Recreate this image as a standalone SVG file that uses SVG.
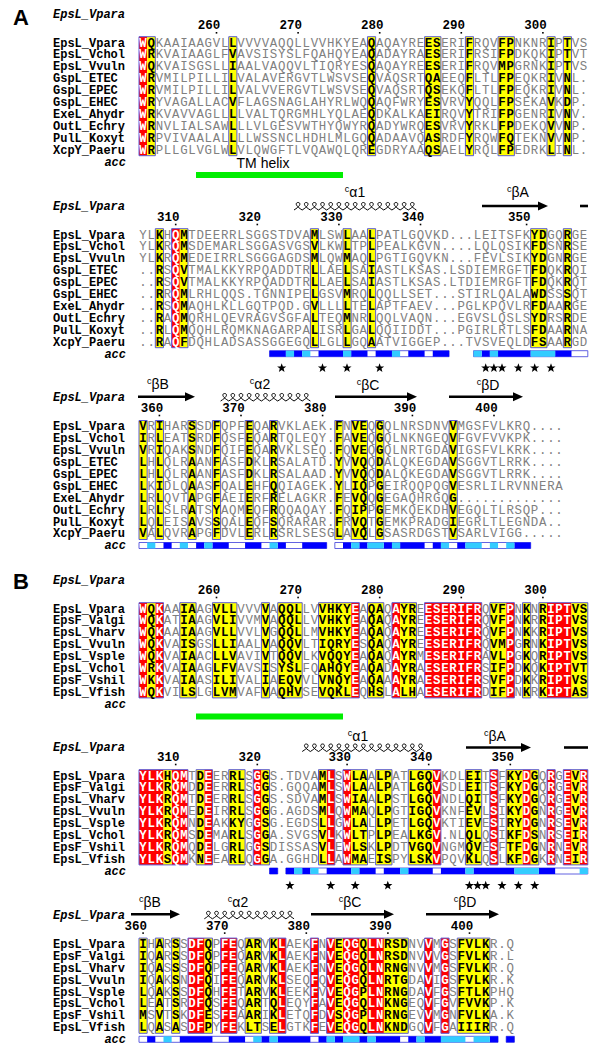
<svg xmlns="http://www.w3.org/2000/svg" width="600" height="1050" viewBox="0 0 600 1050">
<style>
.s{font-family:"Liberation Mono","Courier New",monospace;font-size:12.4px;letter-spacing:0.72px;fill:#808080}
.k{font-weight:bold;fill:#000}
.w{font-weight:bold;fill:#fff}
.n{font-family:"Liberation Mono","Courier New",monospace;font-size:12px;font-weight:bold;fill:#000}
.t{font-family:"Liberation Mono","Courier New",monospace;font-size:12px;font-weight:bold;font-style:italic;fill:#000}
.acc{font-family:"Liberation Mono","Courier New",monospace;font-size:12px;font-weight:bold;font-style:italic;fill:#000;text-anchor:end}
.num{font-family:"Liberation Mono","Courier New",monospace;font-size:12.5px;font-weight:bold;fill:#000;text-anchor:end}
.ss{font-family:"Liberation Sans",Arial,sans-serif;font-size:14px;fill:#000;text-anchor:middle}
.pl{font-family:"Liberation Sans",Arial,sans-serif;font-size:22px;font-weight:bold;fill:#000}
.R{fill:#ff0000}.Y{fill:#ffff00}
.fr{fill:none;stroke:#5a5ad6;stroke-width:1;vector-effect:non-scaling-stroke}
.ab{fill:#0000ff}.ac{fill:#33ccff}
.aw{fill:#fff;stroke:#3b3bd9;stroke-width:0.8;vector-effect:non-scaling-stroke}
.hx{fill:none;stroke:#000;stroke-width:1}
.ar{stroke:#000;stroke-width:2.6}
.tm{fill:#00ee00}
</style>
<defs>
<path id="st" d="M0,-4.8L1.18,-1.62L4.57,-1.48L1.9,0.62L2.82,3.88L0,2L-2.82,3.88L-1.9,0.62L-4.57,-1.48L-1.18,-1.62Z" fill="#000"/>
<polygon id="ah" points="-10,-4.5 0,0 -10,4.5" fill="#000"/>
</defs>

<g id="panelA">
<text class="pl" x="13" y="25">A</text>

<g id="A1">
<text class="t" x="53" y="18">EpsL_Vpara</text>
<g class="num"><text x="220.3" y="29.3">260</text><text x="301.9" y="29.3">270</text><text x="383.5" y="29.3">280</text><text x="465.1" y="29.3">290</text><text x="546.7" y="29.3">300</text></g>
<g fill="#000"><rect x="215.7" y="32" width="1.6" height="1.6"/><rect x="297.3" y="32" width="1.6" height="1.6"/><rect x="378.9" y="32" width="1.6" height="1.6"/><rect x="460.5" y="32" width="1.6" height="1.6"/><rect x="542.1" y="32" width="1.6" height="1.6"/></g>
<g transform="translate(139,36.7) scale(8.16,1)">
<rect class="R" x="0" width="1" height="119"/>
<rect class="Y" x="1" width="1" height="119"/><rect class="Y" x="11" width="1" height="119"/><rect class="Y" x="28" width="1" height="119"/><rect class="Y" x="35" width="2" height="119"/><rect class="Y" x="40" width="1" height="119"/><rect class="Y" x="44" width="2" height="119"/><rect class="Y" x="50" width="1" height="119"/><rect class="Y" x="52" width="1" height="119"/>
<rect class="fr" x="0" width="2" height="119"/><rect class="fr" x="11" width="1" height="119"/><rect class="fr" x="28" width="1" height="119"/><rect class="fr" x="35" width="2" height="119"/><rect class="fr" x="40" width="1" height="119"/><rect class="fr" x="44" width="2" height="119"/><rect class="fr" x="50" width="1" height="119"/><rect class="fr" x="52" width="1" height="119"/>
</g>
<text class="n"><tspan x="53" y="46.5">EpsL_Vpara</tspan><tspan x="53" y="58.4">EpsL_Vchol</tspan><tspan x="53" y="70.3">EpsL_Vvuln</tspan><tspan x="53" y="82.2">GspL_ETEC</tspan><tspan x="53" y="94.1">GspL_EPEC</tspan><tspan x="53" y="106">GspL_EHEC</tspan><tspan x="53" y="117.9">ExeL_Ahydr</tspan><tspan x="53" y="129.8">OutL_Echry</tspan><tspan x="53" y="141.7">PulL_Koxyt</tspan><tspan x="53" y="153.6">XcpY_Paeru</tspan></text>
<text class="acc" x="126" y="165.5">acc</text>
<g class="s" transform="translate(139.36,0)">
<text y="46.5"><tspan class="w">W</tspan><tspan class="k">Q</tspan>KAAIAAGVL<tspan class="k">L</tspan>VVVVAQQLLVVHKYEA<tspan class="k">Q</tspan>AQAYRE<tspan class="k">ES</tspan>ERI<tspan class="k">F</tspan>RQV<tspan class="k">FP</tspan>NKNR<tspan class="k">I</tspan>P<tspan class="k">T</tspan>VS</text>
<text y="58.4"><tspan class="w">W</tspan><tspan class="k">R</tspan>KVAIAAGLF<tspan class="k">V</tspan>AVSISYSLFQAHQYEA<tspan class="k">Q</tspan>ADAYRA<tspan class="k">ES</tspan>ERI<tspan class="k">F</tspan>RSI<tspan class="k">FP</tspan>DKQK<tspan class="k">I</tspan>P<tspan class="k">T</tspan>VT</text>
<text y="70.3"><tspan class="w">W</tspan><tspan class="k">Q</tspan>KVAISGSLL<tspan class="k">I</tspan>AALVAQQVLTIQRYES<tspan class="k">Q</tspan>AQAYRE<tspan class="k">ES</tspan>ERI<tspan class="k">F</tspan>RQV<tspan class="k">MP</tspan>GRNK<tspan class="k">I</tspan>P<tspan class="k">T</tspan>VS</text>
<text y="82.2"><tspan class="w">W</tspan><tspan class="k">R</tspan>VMILPILLI<tspan class="k">L</tspan>VALAVERGVTLWSVSE<tspan class="k">Q</tspan>VAQSRT<tspan class="k">QA</tspan>EEQ<tspan class="k">F</tspan>LTL<tspan class="k">FP</tspan>EQKR<tspan class="k">I</tspan>V<tspan class="k">N</tspan>L.</text>
<text y="94.1"><tspan class="w">W</tspan><tspan class="k">R</tspan>VMILPILLI<tspan class="k">L</tspan>VALVVERGVTLWSVSE<tspan class="k">Q</tspan>VAQSRT<tspan class="k">QS</tspan>EKQ<tspan class="k">F</tspan>LTL<tspan class="k">FP</tspan>EQKR<tspan class="k">I</tspan>V<tspan class="k">N</tspan>L.</text>
<text y="106"><tspan class="w">W</tspan><tspan class="k">R</tspan>YVAGALLAC<tspan class="k">V</tspan>FLAGSNAGLAHYRLWQ<tspan class="k">Q</tspan>AQFWRY<tspan class="k">ES</tspan>VRV<tspan class="k">Y</tspan>QQL<tspan class="k">FP</tspan>SEKA<tspan class="k">V</tspan>K<tspan class="k">D</tspan>P.</text>
<text y="117.9"><tspan class="w">W</tspan><tspan class="k">R</tspan>KVAVVAGLL<tspan class="k">L</tspan>LVALTQRGMHLYQLAE<tspan class="k">Q</tspan>DKALKA<tspan class="k">EI</tspan>RQV<tspan class="k">Y</tspan>TRI<tspan class="k">FP</tspan>GENR<tspan class="k">I</tspan>V<tspan class="k">N</tspan>V.</text>
<text y="129.8"><tspan class="w">W</tspan><tspan class="k">R</tspan>NVLIALSAW<tspan class="k">L</tspan>LLVLGESVWTHYQWYR<tspan class="k">Q</tspan>ADYWRQ<tspan class="k">ES</tspan>VRV<tspan class="k">Y</tspan>RKL<tspan class="k">FP</tspan>DEKQ<tspan class="k">V</tspan>V<tspan class="k">N</tspan>P.</text>
<text y="141.7"><tspan class="w">W</tspan><tspan class="k">R</tspan>PVIVAALAL<tspan class="k">L</tspan>LLWSSNCLHDHLMLGQ<tspan class="k">Q</tspan>ADAAVQ<tspan class="k">AS</tspan>RDF<tspan class="k">Y</tspan>RQW<tspan class="k">FQ</tspan>TEKN<tspan class="k">V</tspan>V<tspan class="k">N</tspan>P.</text>
<text y="153.6"><tspan class="w">W</tspan><tspan class="k">R</tspan>PLLGLVGLW<tspan class="k">L</tspan>VLQWGFTLVQAWQLQR<tspan class="k">E</tspan>GDRYAA<tspan class="k">QS</tspan>AEL<tspan class="k">Y</tspan>RQL<tspan class="k">FP</tspan>EDRK<tspan class="k">L</tspan>I<tspan class="k">N</tspan>L.</text>
</g>
<text x="263" y="168" class="ss">TM helix</text>
<rect class="tm" x="196" y="172" width="147" height="6"/>
</g>

<g id="A2">
<text class="ss" x="355" y="197"><tspan font-size="9" dy="-5">c</tspan><tspan dy="5">α1</tspan></text>
<text class="ss" x="518" y="197"><tspan font-size="9" dy="-5">c</tspan><tspan dy="5">βA</tspan></text>
<path class="hx" d="M294,210c16.3,-10 -8.2,-10 8.16,0c16.3,-10 -8.2,-10 8.16,0c16.3,-10 -8.2,-10 8.16,0c16.3,-10 -8.2,-10 8.16,0c16.3,-10 -8.2,-10 8.16,0c16.3,-10 -8.2,-10 8.16,0c16.3,-10 -8.2,-10 8.16,0c16.3,-10 -8.2,-10 8.16,0c16.3,-10 -8.2,-10 8.16,0c16.3,-10 -8.2,-10 8.16,0c16.3,-10 -8.2,-10 8.16,0c16.3,-10 -8.2,-10 8.16,0c16.3,-10 -8.2,-10 8.16,0c16.3,-10 -8.2,-10 8.16,0c16.3,-10 -8.2,-10 8.16,0"/>
<line class="ar" x1="482" y1="206" x2="540" y2="206"/><use href="#ah" x="548" y="206"/>
<line class="ar" x1="580" y1="206" x2="588" y2="206"/>
<text class="t" x="53" y="210">EpsL_Vpara</text>
<g class="num"><text x="179.5" y="221">310</text><text x="261.1" y="221">320</text><text x="342.7" y="221">330</text><text x="424.3" y="221">340</text><text x="530.4" y="221">350</text></g>
<g fill="#000"><rect x="174.9" y="223.7" width="1.6" height="1.6"/><rect x="256.5" y="223.7" width="1.6" height="1.6"/><rect x="338.1" y="223.7" width="1.6" height="1.6"/><rect x="419.7" y="223.7" width="1.6" height="1.6"/><rect x="525.8" y="223.7" width="1.6" height="1.6"/></g>
<g transform="translate(139,228.7) scale(8.16,1)">
<rect class="Y" x="2" width="1" height="119"/><rect class="R" x="4" width="1" height="119"/><rect class="Y" x="5" width="1" height="119"/><rect class="Y" x="21" width="1" height="119"/><rect class="Y" x="25" width="1" height="119"/><rect class="Y" x="28" width="1" height="119"/><rect class="Y" x="48" width="2" height="119"/><rect class="Y" x="52" width="1" height="119"/>
<rect class="fr" x="2" width="1" height="119"/><rect class="fr" x="4" width="2" height="119"/><rect class="fr" x="21" width="1" height="119"/><rect class="fr" x="25" width="1" height="119"/><rect class="fr" x="28" width="1" height="119"/><rect class="fr" x="48" width="2" height="119"/><rect class="fr" x="52" width="1" height="119"/>
</g>
<text class="n"><tspan x="53" y="238.5">EpsL_Vpara</tspan><tspan x="53" y="250.4">EpsL_Vchol</tspan><tspan x="53" y="262.3">EpsL_Vvuln</tspan><tspan x="53" y="274.2">GspL_ETEC</tspan><tspan x="53" y="286.1">GspL_EPEC</tspan><tspan x="53" y="298">GspL_EHEC</tspan><tspan x="53" y="309.9">ExeL_Ahydr</tspan><tspan x="53" y="321.8">OutL_Echry</tspan><tspan x="53" y="333.7">PulL_Koxyt</tspan><tspan x="53" y="345.6">XcpY_Paeru</tspan></text>
<text class="acc" x="126" y="357.5">acc</text>
<g class="s" transform="translate(139.36,0)">
<text y="238.5">YL<tspan class="k">K</tspan>H<tspan class="w">Q</tspan><tspan class="k">M</tspan>TDEERRLSGGSTDVA<tspan class="k">M</tspan>LSW<tspan class="k">L</tspan>AA<tspan class="k">L</tspan>PATLGQVKD...LEITSFK<tspan class="k">YD</tspan>GQ<tspan class="k">R</tspan>GE</text>
<text y="250.4">YL<tspan class="k">K</tspan>R<tspan class="w">Q</tspan><tspan class="k">M</tspan>SDEMARLSGGASVGS<tspan class="k">V</tspan>LKW<tspan class="k">L</tspan>TP<tspan class="k">L</tspan>PEALKGVN....LQLQSIK<tspan class="k">FD</tspan>SN<tspan class="k">R</tspan>SE</text>
<text y="262.3">YL<tspan class="k">K</tspan>R<tspan class="w">Q</tspan><tspan class="k">M</tspan>EDEIRRLSGGGAGDS<tspan class="k">M</tspan>LQW<tspan class="k">M</tspan>AQ<tspan class="k">L</tspan>PGTIGQVKN...FEVLSIK<tspan class="k">YD</tspan>GN<tspan class="k">R</tspan>GE</text>
<text y="274.2">..<tspan class="k">R</tspan>S<tspan class="w">Q</tspan><tspan class="k">V</tspan>TMALKKYRPQADDTR<tspan class="k">L</tspan>LAE<tspan class="k">L</tspan>SA<tspan class="k">I</tspan>ASTLKSAS.LSDIEMRGFT<tspan class="k">FD</tspan>QK<tspan class="k">R</tspan>QI</text>
<text y="286.1">..<tspan class="k">R</tspan>S<tspan class="w">Q</tspan><tspan class="k">V</tspan>TMALKKYRPQADDTR<tspan class="k">L</tspan>LAE<tspan class="k">L</tspan>SA<tspan class="k">I</tspan>ASTLKSAS.LTDIEMRGFT<tspan class="k">FD</tspan>QK<tspan class="k">R</tspan>QT</text>
<text y="298">..<tspan class="k">R</tspan>R<tspan class="w">Q</tspan><tspan class="k">M</tspan>LRHLQQS.TGNNIPE<tspan class="k">L</tspan>GSV<tspan class="k">M</tspan>RQ<tspan class="k">L</tspan>QQLLSET...STIRLQALA<tspan class="k">WD</tspan>SS<tspan class="k">S</tspan>QT</text>
<text y="309.9">..<tspan class="k">R</tspan>S<tspan class="w">Q</tspan><tspan class="k">M</tspan>AQHLKLLGQTPQD.G<tspan class="k">V</tspan>LLL<tspan class="k">L</tspan>TE<tspan class="k">L</tspan>APTFAEV...PGLKPQVLR<tspan class="k">FD</tspan>AA<tspan class="k">R</tspan>GE</text>
<text y="321.8">..<tspan class="k">R</tspan>A<tspan class="w">Q</tspan><tspan class="k">M</tspan>QRHLQEVRAGVSGFA<tspan class="k">L</tspan>TEQ<tspan class="k">M</tspan>NR<tspan class="k">L</tspan>QQLVAQN...EGVSLQSLS<tspan class="k">YD</tspan>RS<tspan class="k">R</tspan>DE</text>
<text y="333.7">..<tspan class="k">R</tspan>L<tspan class="w">Q</tspan><tspan class="k">M</tspan>QQHLRQMKNAGARPA<tspan class="k">L</tspan>ISR<tspan class="k">L</tspan>GA<tspan class="k">L</tspan>QQIIDDT...PGIRLRTLS<tspan class="k">FD</tspan>AA<tspan class="k">R</tspan>NA</text>
<text y="345.6">..<tspan class="k">R</tspan>A<tspan class="w">Q</tspan><tspan class="k">F</tspan>DQHLADSASSGGEGQ<tspan class="k">L</tspan>LGL<tspan class="k">L</tspan>GQ<tspan class="k">A</tspan>ATVIGGEP...TVSVEQLD<tspan class="k">FS</tspan>AA<tspan class="k">R</tspan>GD</text>
</g>
<g transform="translate(139,350.7) scale(8.16,1)">
<rect class="aw" x="16" width="22" height="6"/><rect class="aw" x="41" width="14" height="6"/>
<rect class="ab" x="16" width="2" height="6"/><rect class="ab" x="19" width="1" height="6"/><rect class="ab" x="22" width="3" height="6"/><rect class="ab" x="26" width="2" height="6"/><rect class="ab" x="29" width="2" height="6"/><rect class="ab" x="33" width="2" height="6"/><rect class="ab" x="36" width="2" height="6"/><rect class="ab" x="42" width="1" height="6"/><rect class="ab" x="44" width="4" height="6"/><rect class="ab" x="51" width="2" height="6"/>
<rect class="ac" x="18" width="1" height="6"/><rect class="ac" x="20" width="1" height="6"/><rect class="ac" x="25" width="1" height="6"/><rect class="ac" x="31" width="1" height="6"/><rect class="ac" x="41" width="1" height="6"/><rect class="ac" x="43" width="1" height="6"/><rect class="ac" x="48" width="3" height="6"/>
</g>
<g><use href="#st" x="281.7" y="368"/><use href="#st" x="322.5" y="368"/><use href="#st" x="347" y="368"/><use href="#st" x="379.6" y="368"/><use href="#st" x="485.7" y="368"/><use href="#st" x="493.9" y="368"/><use href="#st" x="502" y="368"/><use href="#st" x="518.4" y="368"/><use href="#st" x="534.7" y="368"/><use href="#st" x="551" y="368"/></g>
</g>

<g id="A3">
<text class="ss" x="158" y="389"><tspan font-size="9" dy="-5">c</tspan><tspan dy="5">βB</tspan></text>
<text class="ss" x="260" y="389"><tspan font-size="9" dy="-5">c</tspan><tspan dy="5">α2</tspan></text>
<text class="ss" x="368" y="390"><tspan font-size="9" dy="-5">c</tspan><tspan dy="5">βC</tspan></text>
<text class="ss" x="488" y="390"><tspan font-size="9" dy="-5">c</tspan><tspan dy="5">βD</tspan></text>
<line class="ar" x1="138" y1="396.7" x2="187" y2="396.7"/><use href="#ah" x="195" y="396.7"/>
<path class="hx" d="M220.6,401c16.3,-10 -8.2,-10 8.16,0c16.3,-10 -8.2,-10 8.16,0c16.3,-10 -8.2,-10 8.16,0c16.3,-10 -8.2,-10 8.16,0c16.3,-10 -8.2,-10 8.16,0c16.3,-10 -8.2,-10 8.16,0c16.3,-10 -8.2,-10 8.16,0c16.3,-10 -8.2,-10 8.16,0c16.3,-10 -8.2,-10 8.16,0c16.3,-10 -8.2,-10 8.16,0c16.3,-10 -8.2,-10 8.16,0"/>
<line class="ar" x1="335" y1="396.7" x2="409" y2="396.7"/><use href="#ah" x="417" y="396.7"/>
<line class="ar" x1="449" y1="396.7" x2="515" y2="396.7"/><use href="#ah" x="523" y="396.7"/>
<text class="t" x="53" y="401">EpsL_Vpara</text>
<g class="num"><text x="163.2" y="412">360</text><text x="244.8" y="412">370</text><text x="326.4" y="412">380</text><text x="416.2" y="412">390</text><text x="497.8" y="412">400</text></g>
<g fill="#000"><rect x="158.6" y="414.7" width="1.6" height="1.6"/><rect x="240.2" y="414.7" width="1.6" height="1.6"/><rect x="321.8" y="414.7" width="1.6" height="1.6"/><rect x="411.6" y="414.7" width="1.6" height="1.6"/><rect x="493.2" y="414.7" width="1.6" height="1.6"/></g>
<g transform="translate(139,420.5) scale(8.16,1)">
<rect class="Y" x="0" width="1" height="119"/><rect class="Y" x="2" width="1" height="119"/><rect class="Y" x="6" width="1" height="119"/><rect class="Y" x="9" width="1" height="119"/><rect class="Y" x="13" width="1" height="119"/><rect class="Y" x="16" width="1" height="119"/><rect class="Y" x="24" width="1" height="119"/><rect class="Y" x="26" width="2" height="119"/><rect class="Y" x="29" width="1" height="119"/><rect class="Y" x="38" width="1" height="119"/>
<rect class="fr" x="0" width="1" height="119"/><rect class="fr" x="2" width="1" height="119"/><rect class="fr" x="6" width="1" height="119"/><rect class="fr" x="9" width="1" height="119"/><rect class="fr" x="13" width="1" height="119"/><rect class="fr" x="16" width="1" height="119"/><rect class="fr" x="24" width="1" height="119"/><rect class="fr" x="26" width="2" height="119"/><rect class="fr" x="29" width="1" height="119"/><rect class="fr" x="38" width="1" height="119"/>
</g>
<text class="n"><tspan x="53" y="430.3">EpsL_Vpara</tspan><tspan x="53" y="442.2">EpsL_Vchol</tspan><tspan x="53" y="454.1">EpsL_Vvuln</tspan><tspan x="53" y="466">GspL_ETEC</tspan><tspan x="53" y="477.9">GspL_EPEC</tspan><tspan x="53" y="489.8">GspL_EHEC</tspan><tspan x="53" y="501.7">ExeL_Ahydr</tspan><tspan x="53" y="513.6">OutL_Echry</tspan><tspan x="53" y="525.5">PulL_Koxyt</tspan><tspan x="53" y="537.4">XcpY_Paeru</tspan></text>
<text class="acc" x="126" y="549.3">acc</text>
<g class="s" transform="translate(139.36,0)">
<text y="430.3"><tspan class="k">V</tspan>R<tspan class="k">I</tspan>HAR<tspan class="k">S</tspan>SD<tspan class="k">F</tspan>QPF<tspan class="k">E</tspan>QA<tspan class="k">R</tspan>VKLAEK.<tspan class="k">F</tspan>N<tspan class="k">VE</tspan>Q<tspan class="k">G</tspan>QLNRSDNV<tspan class="k">V</tspan>MGSFVLKRQ....</text>
<text y="442.2"><tspan class="k">I</tspan>R<tspan class="k">L</tspan>EAT<tspan class="k">S</tspan>RD<tspan class="k">F</tspan>QSF<tspan class="k">E</tspan>QA<tspan class="k">R</tspan>TQLEQY.<tspan class="k">F</tspan>A<tspan class="k">VE</tspan>Q<tspan class="k">G</tspan>QLNKNGEQ<tspan class="k">V</tspan>FGVFVVKPK....</text>
<text y="454.1"><tspan class="k">V</tspan>R<tspan class="k">I</tspan>QAK<tspan class="k">S</tspan>ND<tspan class="k">F</tspan>QIF<tspan class="k">E</tspan>QA<tspan class="k">R</tspan>VKLSEQ.<tspan class="k">F</tspan>Q<tspan class="k">VE</tspan>Q<tspan class="k">G</tspan>QLNRTGDA<tspan class="k">V</tspan>IGSFVLKRK....</text>
<text y="466"><tspan class="k">L</tspan>H<tspan class="k">L</tspan>QLR<tspan class="k">A</tspan>AN<tspan class="k">F</tspan>ASF<tspan class="k">D</tspan>KL<tspan class="k">R</tspan>SALATD.<tspan class="k">Y</tspan>V<tspan class="k">VQ</tspan>Q<tspan class="k">D</tspan>ALQKEGDA<tspan class="k">V</tspan>SGGVTLRRK....</text>
<text y="477.9"><tspan class="k">L</tspan>H<tspan class="k">L</tspan>QLR<tspan class="k">A</tspan>AN<tspan class="k">F</tspan>ASF<tspan class="k">D</tspan>KL<tspan class="k">R</tspan>SALAAD.<tspan class="k">Y</tspan>V<tspan class="k">VQ</tspan>Q<tspan class="k">D</tspan>ALQKEGDA<tspan class="k">V</tspan>SGGVTLRRK....</text>
<text y="489.8"><tspan class="k">L</tspan>K<tspan class="k">I</tspan>DLQ<tspan class="k">A</tspan>AS<tspan class="k">F</tspan>QAL<tspan class="k">E</tspan>HF<tspan class="k">Q</tspan>QIAGEK.<tspan class="k">Y</tspan>L<tspan class="k">IQ</tspan>P<tspan class="k">G</tspan>EIRQQPQG<tspan class="k">V</tspan>ESRLILRVNNERA</text>
<text y="501.7"><tspan class="k">L</tspan>R<tspan class="k">L</tspan>QVT<tspan class="k">A</tspan>PG<tspan class="k">F</tspan>AEI<tspan class="k">E</tspan>RF<tspan class="k">R</tspan>ELAGKR.<tspan class="k">F</tspan>E<tspan class="k">VQ</tspan>Q<tspan class="k">G</tspan>EGAQHRGQ<tspan class="k">G</tspan>.............</text>
<text y="513.6"><tspan class="k">L</tspan>R<tspan class="k">L</tspan>SLR<tspan class="k">A</tspan>TS<tspan class="k">Y</tspan>AQM<tspan class="k">E</tspan>QF<tspan class="k">R</tspan>QQAQAY.<tspan class="k">F</tspan>Q<tspan class="k">IP</tspan>P<tspan class="k">G</tspan>EMKQEKDH<tspan class="k">V</tspan>EGQLTLRSQP...</text>
<text y="525.5"><tspan class="k">L</tspan>Q<tspan class="k">L</tspan>EIS<tspan class="k">A</tspan>VS<tspan class="k">S</tspan>QAL<tspan class="k">E</tspan>QF<tspan class="k">S</tspan>QRARAR.<tspan class="k">F</tspan>R<tspan class="k">VQ</tspan>T<tspan class="k">G</tspan>EMKPRADG<tspan class="k">I</tspan>EGRLTLEGNDA..</text>
<text y="537.4"><tspan class="k">V</tspan>A<tspan class="k">L</tspan>QVR<tspan class="k">A</tspan>PG<tspan class="k">F</tspan>DVL<tspan class="k">E</tspan>RL<tspan class="k">R</tspan>SRLSESG<tspan class="k">L</tspan>A<tspan class="k">VQ</tspan>L<tspan class="k">G</tspan>SASRDGST<tspan class="k">V</tspan>SARLVIGG.....</text>
</g>
<g transform="translate(139,542.5) scale(8.16,1)">
<rect class="aw" x="0" width="23" height="6"/><rect class="aw" x="24" width="24" height="6"/>
<rect class="ab" x="3" width="1" height="6"/><rect class="ab" x="7" width="1" height="6"/><rect class="ab" x="9" width="2" height="6"/><rect class="ab" x="13" width="2" height="6"/><rect class="ab" x="17" width="1" height="6"/><rect class="ab" x="20" width="3" height="6"/><rect class="ab" x="25" width="1" height="6"/><rect class="ab" x="27" width="1" height="6"/><rect class="ab" x="30" width="1" height="6"/><rect class="ab" x="32" width="3" height="6"/><rect class="ab" x="36" width="1" height="6"/><rect class="ab" x="39" width="1" height="6"/><rect class="ab" x="46" width="2" height="6"/>
<rect class="ac" x="1" width="1" height="6"/><rect class="ac" x="5" width="1" height="6"/><rect class="ac" x="8" width="1" height="6"/><rect class="ac" x="16" width="1" height="6"/><rect class="ac" x="26" width="1" height="6"/><rect class="ac" x="28" width="2" height="6"/><rect class="ac" x="31" width="1" height="6"/><rect class="ac" x="37" width="1" height="6"/><rect class="ac" x="40" width="2" height="6"/><rect class="ac" x="43" width="1" height="6"/><rect class="ac" x="45" width="1" height="6"/>
</g>
</g>
</g>

<g id="panelB">
<text class="pl" x="13" y="589">B</text>

<g id="B1">
<text class="t" x="53" y="583.5">EpsL_Vpara</text>
<g class="num"><text x="220.3" y="594">260</text><text x="301.9" y="594">270</text><text x="383.5" y="594">280</text><text x="465.1" y="594">290</text><text x="546.7" y="594">300</text></g>
<g fill="#000"><rect x="215.7" y="596.7" width="1.6" height="1.6"/><rect x="297.3" y="596.7" width="1.6" height="1.6"/><rect x="378.9" y="596.7" width="1.6" height="1.6"/><rect x="460.5" y="596.7" width="1.6" height="1.6"/><rect x="542.1" y="596.7" width="1.6" height="1.6"/></g>
<g transform="translate(139,602.7) scale(8.16,1)">
<rect class="R" x="0" width="1" height="95.2"/><rect class="R" x="2" width="1" height="95.2"/><rect class="R" x="26" width="1" height="95.2"/><rect class="R" x="31" width="1" height="95.2"/><rect class="R" x="35" width="7" height="95.2"/><rect class="R" x="45" width="1" height="95.2"/><rect class="R" x="50" width="3" height="95.2"/>
<rect class="Y" x="1" width="1" height="95.2"/><rect class="Y" x="5" width="2" height="95.2"/><rect class="Y" x="9" width="3" height="95.2"/><rect class="Y" x="15" width="1" height="95.2"/><rect class="Y" x="17" width="3" height="95.2"/><rect class="Y" x="22" width="4" height="95.2"/><rect class="Y" x="28" width="2" height="95.2"/><rect class="Y" x="32" width="2" height="95.2"/><rect class="Y" x="43" width="2" height="95.2"/><rect class="Y" x="47" width="1" height="95.2"/><rect class="Y" x="49" width="1" height="95.2"/><rect class="Y" x="53" width="2" height="95.2"/>
<rect class="fr" x="0" width="3" height="95.2"/><rect class="fr" x="5" width="2" height="95.2"/><rect class="fr" x="9" width="3" height="95.2"/><rect class="fr" x="15" width="1" height="95.2"/><rect class="fr" x="17" width="3" height="95.2"/><rect class="fr" x="22" width="5" height="95.2"/><rect class="fr" x="28" width="2" height="95.2"/><rect class="fr" x="31" width="3" height="95.2"/><rect class="fr" x="35" width="7" height="95.2"/><rect class="fr" x="43" width="3" height="95.2"/><rect class="fr" x="47" width="1" height="95.2"/><rect class="fr" x="49" width="6" height="95.2"/>
</g>
<text class="n"><tspan x="53" y="612.5">EpsL_Vpara</tspan><tspan x="53" y="624.4">EpsF_Valgi</tspan><tspan x="53" y="636.3">EpsL_Vharv</tspan><tspan x="53" y="648.2">EpsL_Vvuln</tspan><tspan x="53" y="660.1">EpsL_Vsple</tspan><tspan x="53" y="672">EpsL_Vchol</tspan><tspan x="53" y="683.9">EpsF_Vshil</tspan><tspan x="53" y="695.8">EpsL_Vfish</tspan></text>
<text class="acc" x="126" y="707.7">acc</text>
<g class="s" transform="translate(139.36,0)">
<text y="612.5"><tspan class="w">W</tspan><tspan class="k">Q</tspan><tspan class="w">K</tspan>AA<tspan class="k">IA</tspan>AG<tspan class="k">VLL</tspan>VVV<tspan class="k">V</tspan>A<tspan class="k">QQL</tspan>LV<tspan class="k">VHKY</tspan><tspan class="w">E</tspan>A<tspan class="k">QA</tspan>Q<tspan class="w">A</tspan><tspan class="k">YR</tspan>E<tspan class="w">ESERIFR</tspan>Q<tspan class="k">VF</tspan><tspan class="w">P</tspan>N<tspan class="k">K</tspan>N<tspan class="k">R</tspan><tspan class="w">IPT</tspan><tspan class="k">VS</tspan></text>
<text y="624.4"><tspan class="w">W</tspan><tspan class="k">Q</tspan><tspan class="w">K</tspan>AT<tspan class="k">IA</tspan>AG<tspan class="k">VLI</tspan>VVM<tspan class="k">V</tspan>A<tspan class="k">QQL</tspan>LV<tspan class="k">VHKY</tspan><tspan class="w">E</tspan>A<tspan class="k">QA</tspan>Q<tspan class="w">A</tspan><tspan class="k">YR</tspan>E<tspan class="w">ESERIFR</tspan>Q<tspan class="k">VF</tspan><tspan class="w">P</tspan>N<tspan class="k">K</tspan>R<tspan class="k">R</tspan><tspan class="w">IPT</tspan><tspan class="k">VS</tspan></text>
<text y="636.3"><tspan class="w">W</tspan><tspan class="k">Q</tspan><tspan class="w">K</tspan>AA<tspan class="k">IA</tspan>AG<tspan class="k">VLL</tspan>VVL<tspan class="k">V</tspan>G<tspan class="k">QQL</tspan>LM<tspan class="k">VHKY</tspan><tspan class="w">E</tspan>A<tspan class="k">QA</tspan>Q<tspan class="w">A</tspan><tspan class="k">YR</tspan>E<tspan class="w">ESERIFR</tspan>Q<tspan class="k">VF</tspan><tspan class="w">P</tspan>N<tspan class="k">K</tspan>K<tspan class="k">R</tspan><tspan class="w">IPT</tspan><tspan class="k">VS</tspan></text>
<text y="648.2"><tspan class="w">W</tspan><tspan class="k">Q</tspan><tspan class="w">K</tspan>VA<tspan class="k">IS</tspan>GS<tspan class="k">LLI</tspan>AAL<tspan class="k">V</tspan>A<tspan class="k">QQV</tspan>LT<tspan class="k">IQRY</tspan><tspan class="w">E</tspan>S<tspan class="k">QA</tspan>Q<tspan class="w">A</tspan><tspan class="k">YR</tspan>E<tspan class="w">ESERIFR</tspan>Q<tspan class="k">VM</tspan><tspan class="w">P</tspan>G<tspan class="k">R</tspan>N<tspan class="k">K</tspan><tspan class="w">IPT</tspan><tspan class="k">VS</tspan></text>
<text y="660.1"><tspan class="w">W</tspan><tspan class="k">Q</tspan><tspan class="w">K</tspan>VA<tspan class="k">IA</tspan>AC<tspan class="k">LLV</tspan>AVI<tspan class="k">V</tspan>T<tspan class="k">QQV</tspan>LK<tspan class="k">VQQY</tspan><tspan class="w">E</tspan>A<tspan class="k">QA</tspan>Q<tspan class="w">A</tspan><tspan class="k">YR</tspan>M<tspan class="w">ESERIFR</tspan>A<tspan class="k">VL</tspan><tspan class="w">P</tspan>G<tspan class="k">K</tspan>Q<tspan class="k">R</tspan><tspan class="w">IPT</tspan><tspan class="k">VS</tspan></text>
<text y="672"><tspan class="w">W</tspan><tspan class="k">R</tspan><tspan class="w">K</tspan>VA<tspan class="k">IA</tspan>AG<tspan class="k">LFV</tspan>AVS<tspan class="k">I</tspan>S<tspan class="k">YSL</tspan>FQ<tspan class="k">AHQY</tspan><tspan class="w">E</tspan>A<tspan class="k">QA</tspan>D<tspan class="w">A</tspan><tspan class="k">YR</tspan>A<tspan class="w">ESERIFR</tspan>S<tspan class="k">IF</tspan><tspan class="w">P</tspan>D<tspan class="k">K</tspan>Q<tspan class="k">K</tspan><tspan class="w">IPT</tspan><tspan class="k">VT</tspan></text>
<text y="683.9"><tspan class="w">W</tspan><tspan class="k">K</tspan><tspan class="w">K</tspan>VA<tspan class="k">IA</tspan>AS<tspan class="k">ILI</tspan>VAL<tspan class="k">I</tspan>A<tspan class="k">EQV</tspan>VL<tspan class="k">VNQY</tspan><tspan class="w">E</tspan>A<tspan class="k">QA</tspan>A<tspan class="w">A</tspan><tspan class="k">YR</tspan>A<tspan class="w">ESERIFR</tspan>S<tspan class="k">VF</tspan><tspan class="w">P</tspan>D<tspan class="k">K</tspan>K<tspan class="k">R</tspan><tspan class="w">IPT</tspan><tspan class="k">VS</tspan></text>
<text y="695.8"><tspan class="w">W</tspan><tspan class="k">Q</tspan><tspan class="w">K</tspan>VI<tspan class="k">LS</tspan>LG<tspan class="k">LVM</tspan>VAF<tspan class="k">V</tspan>A<tspan class="k">QHV</tspan>SE<tspan class="k">VQKL</tspan><tspan class="w">E</tspan>Q<tspan class="k">HS</tspan>L<tspan class="w">A</tspan><tspan class="k">LH</tspan>A<tspan class="w">ESERIFR</tspan>D<tspan class="k">IF</tspan><tspan class="w">P</tspan>N<tspan class="k">K</tspan>R<tspan class="k">K</tspan><tspan class="w">IPT</tspan><tspan class="k">AS</tspan></text>
</g>
<rect class="tm" x="196" y="713.5" width="147" height="6"/>
</g>

<g id="B2">
<text class="ss" x="358" y="741"><tspan font-size="9" dy="-5">c</tspan><tspan dy="5">α1</tspan></text>
<text class="ss" x="495" y="741"><tspan font-size="9" dy="-5">c</tspan><tspan dy="5">βA</tspan></text>
<path class="hx" d="M302.2,751.5c16.3,-10 -8.2,-10 8.16,0c16.3,-10 -8.2,-10 8.16,0c16.3,-10 -8.2,-10 8.16,0c16.3,-10 -8.2,-10 8.16,0c16.3,-10 -8.2,-10 8.16,0c16.3,-10 -8.2,-10 8.16,0c16.3,-10 -8.2,-10 8.16,0c16.3,-10 -8.2,-10 8.16,0c16.3,-10 -8.2,-10 8.16,0c16.3,-10 -8.2,-10 8.16,0c16.3,-10 -8.2,-10 8.16,0c16.3,-10 -8.2,-10 8.16,0c16.3,-10 -8.2,-10 8.16,0c16.3,-10 -8.2,-10 8.16,0c16.3,-10 -8.2,-10 8.16,0"/>
<line class="ar" x1="466" y1="747.5" x2="523" y2="747.5"/><use href="#ah" x="531" y="747.5"/>
<line class="ar" x1="564" y1="747.5" x2="588" y2="747.5"/>
<text class="t" x="53" y="750.7">EpsL_Vpara</text>
<g class="num"><text x="179.5" y="761">310</text><text x="261.1" y="761">320</text><text x="350.9" y="761">330</text><text x="432.5" y="761">340</text><text x="514.1" y="761">350</text></g>
<g fill="#000"><rect x="174.9" y="763.7" width="1.6" height="1.6"/><rect x="256.5" y="763.7" width="1.6" height="1.6"/><rect x="346.3" y="763.7" width="1.6" height="1.6"/><rect x="427.9" y="763.7" width="1.6" height="1.6"/><rect x="509.5" y="763.7" width="1.6" height="1.6"/></g>
<g transform="translate(139,769.7) scale(8.16,1)">
<rect class="R" x="0" width="3" height="95.2"/><rect class="R" x="4" width="2" height="95.2"/><rect class="R" x="8" width="1" height="95.2"/><rect class="R" x="14" width="1" height="95.2"/><rect class="R" x="23" width="1" height="95.2"/><rect class="R" x="25" width="1" height="95.2"/><rect class="R" x="36" width="1" height="95.2"/><rect class="R" x="43" width="1" height="95.2"/><rect class="R" x="47" width="1" height="95.2"/><rect class="R" x="50" width="1" height="95.2"/><rect class="R" x="52" width="1" height="95.2"/><rect class="R" x="54" width="1" height="95.2"/>
<rect class="Y" x="3" width="1" height="95.2"/><rect class="Y" x="7" width="1" height="95.2"/><rect class="Y" x="11" width="2" height="95.2"/><rect class="Y" x="15" width="1" height="95.2"/><rect class="Y" x="22" width="1" height="95.2"/><rect class="Y" x="26" width="2" height="95.2"/><rect class="Y" x="29" width="2" height="95.2"/><rect class="Y" x="33" width="3" height="95.2"/><rect class="Y" x="40" width="2" height="95.2"/><rect class="Y" x="45" width="2" height="95.2"/><rect class="Y" x="48" width="1" height="95.2"/><rect class="Y" x="53" width="1" height="95.2"/>
<rect class="fr" x="0" width="6" height="95.2"/><rect class="fr" x="7" width="2" height="95.2"/><rect class="fr" x="11" width="2" height="95.2"/><rect class="fr" x="14" width="2" height="95.2"/><rect class="fr" x="22" width="2" height="95.2"/><rect class="fr" x="25" width="3" height="95.2"/><rect class="fr" x="29" width="2" height="95.2"/><rect class="fr" x="33" width="4" height="95.2"/><rect class="fr" x="40" width="2" height="95.2"/><rect class="fr" x="43" width="1" height="95.2"/><rect class="fr" x="45" width="4" height="95.2"/><rect class="fr" x="50" width="1" height="95.2"/><rect class="fr" x="52" width="3" height="95.2"/>
</g>
<text class="n"><tspan x="53" y="779.5">EpsL_Vpara</tspan><tspan x="53" y="791.4">EpsF_Valgi</tspan><tspan x="53" y="803.3">EpsL_Vharv</tspan><tspan x="53" y="815.2">EpsL_Vvuln</tspan><tspan x="53" y="827.1">EpsL_Vsple</tspan><tspan x="53" y="839">EpsL_Vchol</tspan><tspan x="53" y="850.9">EpsF_Vshil</tspan><tspan x="53" y="862.8">EpsL_Vfish</tspan></text>
<text class="acc" x="126" y="874.7">acc</text>
<g class="s" transform="translate(139.36,0)">
<text y="779.5"><tspan class="w">YLK</tspan><tspan class="k">H</tspan><tspan class="w">QM</tspan>T<tspan class="k">D</tspan><tspan class="w">E</tspan>ER<tspan class="k">RL</tspan>S<tspan class="w">G</tspan><tspan class="k">G</tspan>S.TDVA<tspan class="k">M</tspan><tspan class="w">L</tspan>S<tspan class="w">W</tspan><tspan class="k">LA</tspan>A<tspan class="k">LP</tspan>AT<tspan class="k">LGQ</tspan><tspan class="w">V</tspan>KDL<tspan class="k">EI</tspan>T<tspan class="w">S</tspan>F<tspan class="k">KY</tspan><tspan class="w">D</tspan><tspan class="k">G</tspan>Q<tspan class="w">R</tspan>G<tspan class="w">E</tspan><tspan class="k">V</tspan><tspan class="w">R</tspan></text>
<text y="791.4"><tspan class="w">YLK</tspan><tspan class="k">R</tspan><tspan class="w">QM</tspan>D<tspan class="k">D</tspan><tspan class="w">E</tspan>ER<tspan class="k">RL</tspan>S<tspan class="w">G</tspan><tspan class="k">G</tspan>S.GQQA<tspan class="k">M</tspan><tspan class="w">L</tspan>S<tspan class="w">W</tspan><tspan class="k">LA</tspan>A<tspan class="k">LP</tspan>AT<tspan class="k">LGQ</tspan><tspan class="w">V</tspan>SDL<tspan class="k">EI</tspan>T<tspan class="w">S</tspan>F<tspan class="k">KY</tspan><tspan class="w">D</tspan><tspan class="k">G</tspan>Q<tspan class="w">R</tspan>G<tspan class="w">E</tspan><tspan class="k">V</tspan><tspan class="w">R</tspan></text>
<text y="803.3"><tspan class="w">YLK</tspan><tspan class="k">R</tspan><tspan class="w">QM</tspan>T<tspan class="k">D</tspan><tspan class="w">E</tspan>ER<tspan class="k">RL</tspan>S<tspan class="w">G</tspan><tspan class="k">G</tspan>S.SDVA<tspan class="k">M</tspan><tspan class="w">L</tspan>S<tspan class="w">W</tspan><tspan class="k">IA</tspan>A<tspan class="k">LP</tspan>ST<tspan class="k">LGQ</tspan><tspan class="w">V</tspan>NDL<tspan class="k">QI</tspan>T<tspan class="w">S</tspan>F<tspan class="k">KY</tspan><tspan class="w">D</tspan><tspan class="k">G</tspan>Q<tspan class="w">R</tspan>G<tspan class="w">E</tspan><tspan class="k">V</tspan><tspan class="w">R</tspan></text>
<text y="815.2"><tspan class="w">YLK</tspan><tspan class="k">R</tspan><tspan class="w">QM</tspan>E<tspan class="k">D</tspan><tspan class="w">E</tspan>IR<tspan class="k">RL</tspan>S<tspan class="w">G</tspan><tspan class="k">G</tspan>G.AGDS<tspan class="k">M</tspan><tspan class="w">L</tspan>Q<tspan class="w">W</tspan><tspan class="k">MA</tspan>Q<tspan class="k">LP</tspan>GT<tspan class="k">IGQ</tspan><tspan class="w">V</tspan>KNF<tspan class="k">EV</tspan>L<tspan class="w">S</tspan>I<tspan class="k">KY</tspan><tspan class="w">D</tspan><tspan class="k">G</tspan>N<tspan class="w">R</tspan>G<tspan class="w">E</tspan><tspan class="k">V</tspan><tspan class="w">R</tspan></text>
<text y="827.1"><tspan class="w">YLK</tspan><tspan class="k">R</tspan><tspan class="w">QM</tspan>N<tspan class="k">D</tspan><tspan class="w">E</tspan>AK<tspan class="k">KY</tspan>G<tspan class="w">G</tspan><tspan class="k">S</tspan>G.EGDS<tspan class="k">L</tspan><tspan class="w">L</tspan>G<tspan class="w">W</tspan><tspan class="k">LA</tspan>L<tspan class="k">LP</tspan>ET<tspan class="k">LGQ</tspan><tspan class="w">V</tspan>KTI<tspan class="k">EV</tspan>E<tspan class="w">S</tspan>I<tspan class="k">RY</tspan><tspan class="w">D</tspan><tspan class="k">G</tspan>N<tspan class="w">R</tspan>S<tspan class="w">E</tspan><tspan class="k">V</tspan><tspan class="w">R</tspan></text>
<text y="839"><tspan class="w">YLK</tspan><tspan class="k">R</tspan><tspan class="w">QM</tspan>S<tspan class="k">D</tspan><tspan class="w">E</tspan>MA<tspan class="k">RL</tspan>S<tspan class="w">G</tspan><tspan class="k">G</tspan>A.SVGS<tspan class="k">V</tspan><tspan class="w">L</tspan>K<tspan class="w">W</tspan><tspan class="k">LT</tspan>P<tspan class="k">LP</tspan>EA<tspan class="k">LKG</tspan><tspan class="w">V</tspan>.NL<tspan class="k">QL</tspan>Q<tspan class="w">S</tspan>I<tspan class="k">KF</tspan><tspan class="w">D</tspan><tspan class="k">S</tspan>N<tspan class="w">R</tspan>S<tspan class="w">E</tspan><tspan class="k">I</tspan><tspan class="w">R</tspan></text>
<text y="850.9"><tspan class="w">YLK</tspan><tspan class="k">R</tspan><tspan class="w">QM</tspan>Q<tspan class="k">D</tspan><tspan class="w">E</tspan>LG<tspan class="k">RL</tspan>G<tspan class="w">G</tspan><tspan class="k">S</tspan>DISSAS<tspan class="k">V</tspan><tspan class="w">L</tspan>E<tspan class="w">W</tspan><tspan class="k">LS</tspan>K<tspan class="k">LP</tspan>DT<tspan class="k">VGQ</tspan><tspan class="w">V</tspan>NGM<tspan class="k">QV</tspan>E<tspan class="w">S</tspan>F<tspan class="k">TF</tspan><tspan class="w">D</tspan><tspan class="k">G</tspan>N<tspan class="w">R</tspan>N<tspan class="w">E</tspan><tspan class="k">V</tspan><tspan class="w">R</tspan></text>
<text y="862.8"><tspan class="w">YLK</tspan><tspan class="k">S</tspan><tspan class="w">QM</tspan>K<tspan class="k">N</tspan><tspan class="w">E</tspan>EA<tspan class="k">RL</tspan>Q<tspan class="w">G</tspan><tspan class="k">G</tspan>A.GGHD<tspan class="k">L</tspan><tspan class="w">L</tspan>A<tspan class="w">W</tspan><tspan class="k">MA</tspan>E<tspan class="k">IS</tspan>PY<tspan class="k">LSK</tspan><tspan class="w">V</tspan>PQV<tspan class="k">KL</tspan>Q<tspan class="w">S</tspan>L<tspan class="k">KF</tspan><tspan class="w">D</tspan><tspan class="k">G</tspan>K<tspan class="w">R</tspan>N<tspan class="w">E</tspan><tspan class="k">I</tspan><tspan class="w">R</tspan></text>
</g>
<g transform="translate(139,868) scale(8.16,1)">
<rect class="aw" x="16" width="1" height="6"/><rect class="aw" x="18" width="37" height="6"/>
<rect class="ab" x="16" width="1" height="6"/><rect class="ab" x="18" width="1" height="6"/><rect class="ab" x="20" width="1" height="6"/><rect class="ab" x="23" width="3" height="6"/><rect class="ab" x="27" width="2" height="6"/><rect class="ab" x="30" width="2" height="6"/><rect class="ab" x="33" width="3" height="6"/><rect class="ab" x="37" width="3" height="6"/><rect class="ab" x="41" width="5" height="6"/><rect class="ab" x="49" width="2" height="6"/>
<rect class="ac" x="19" width="1" height="6"/><rect class="ac" x="21" width="1" height="6"/><rect class="ac" x="26" width="1" height="6"/><rect class="ac" x="32" width="1" height="6"/><rect class="ac" x="40" width="1" height="6"/><rect class="ac" x="46" width="3" height="6"/><rect class="ac" x="54" width="1" height="6"/>
</g>
<g><use href="#st" x="289.9" y="885.6"/><use href="#st" x="330.7" y="885.6"/><use href="#st" x="355.2" y="885.6"/><use href="#st" x="387.8" y="885.6"/><use href="#st" x="469.4" y="885.6"/><use href="#st" x="477.6" y="885.6"/><use href="#st" x="485.7" y="885.6"/><use href="#st" x="502" y="885.6"/><use href="#st" x="518.4" y="885.6"/><use href="#st" x="534.7" y="885.6"/></g>
</g>

<g id="B3">
<text class="ss" x="150" y="906.6"><tspan font-size="9" dy="-5">c</tspan><tspan dy="5">βB</tspan></text>
<text class="ss" x="238" y="906.6"><tspan font-size="9" dy="-5">c</tspan><tspan dy="5">α2</tspan></text>
<text class="ss" x="350" y="906.6"><tspan font-size="9" dy="-5">c</tspan><tspan dy="5">βC</tspan></text>
<text class="ss" x="465" y="906.6"><tspan font-size="9" dy="-5">c</tspan><tspan dy="5">βD</tspan></text>
<line class="ar" x1="131" y1="914.3" x2="172" y2="914.3"/><use href="#ah" x="180" y="914.3"/>
<path class="hx" d="M204.3,918.8c16.3,-10 -8.2,-10 8.16,0c16.3,-10 -8.2,-10 8.16,0c16.3,-10 -8.2,-10 8.16,0c16.3,-10 -8.2,-10 8.16,0c16.3,-10 -8.2,-10 8.16,0c16.3,-10 -8.2,-10 8.16,0c16.3,-10 -8.2,-10 8.16,0c16.3,-10 -8.2,-10 8.16,0c16.3,-10 -8.2,-10 8.16,0c16.3,-10 -8.2,-10 8.16,0c16.3,-10 -8.2,-10 8.16,0"/>
<line class="ar" x1="311" y1="914.3" x2="386" y2="914.3"/><use href="#ah" x="394" y="914.3"/>
<line class="ar" x1="426" y1="914.3" x2="491" y2="914.3"/><use href="#ah" x="499" y="914.3"/>
<text class="t" x="53" y="918.6">EpsL_Vpara</text>
<g class="num"><text x="146.9" y="929.6">360</text><text x="228.5" y="929.6">370</text><text x="310.1" y="929.6">380</text><text x="391.7" y="929.6">390</text><text x="473.3" y="929.6">400</text></g>
<g fill="#000"><rect x="142.3" y="932.3" width="1.6" height="1.6"/><rect x="223.9" y="932.3" width="1.6" height="1.6"/><rect x="305.5" y="932.3" width="1.6" height="1.6"/><rect x="387.1" y="932.3" width="1.6" height="1.6"/><rect x="468.7" y="932.3" width="1.6" height="1.6"/></g>
<g transform="translate(139,938.1) scale(8.16,1)">
<rect class="Y" x="0" width="1" height="95.2"/><rect class="Y" x="2" width="1" height="95.2"/><rect class="Y" x="4" width="1" height="95.2"/><rect class="Y" x="8" width="1" height="95.2"/><rect class="Y" x="13" width="2" height="95.2"/><rect class="Y" x="16" width="1" height="95.2"/><rect class="Y" x="24" width="1" height="95.2"/><rect class="Y" x="27" width="1" height="95.2"/><rect class="Y" x="30" width="3" height="95.2"/><rect class="Y" x="39" width="4" height="95.2"/>
<rect class="R" x="6" width="2" height="95.2"/><rect class="R" x="10" width="2" height="95.2"/><rect class="R" x="17" width="1" height="95.2"/><rect class="R" x="21" width="1" height="95.2"/><rect class="R" x="23" width="1" height="95.2"/><rect class="R" x="25" width="2" height="95.2"/><rect class="R" x="28" width="2" height="95.2"/><rect class="R" x="35" width="1" height="95.2"/><rect class="R" x="37" width="1" height="95.2"/>
<rect class="fr" x="0" width="1" height="95.2"/><rect class="fr" x="2" width="1" height="95.2"/><rect class="fr" x="4" width="1" height="95.2"/><rect class="fr" x="6" width="3" height="95.2"/><rect class="fr" x="10" width="2" height="95.2"/><rect class="fr" x="13" width="2" height="95.2"/><rect class="fr" x="16" width="2" height="95.2"/><rect class="fr" x="21" width="1" height="95.2"/><rect class="fr" x="23" width="10" height="95.2"/><rect class="fr" x="35" width="1" height="95.2"/><rect class="fr" x="37" width="1" height="95.2"/><rect class="fr" x="39" width="4" height="95.2"/>
</g>
<text class="n"><tspan x="53" y="947.9">EpsL_Vpara</tspan><tspan x="53" y="959.8">EpsF_Valgi</tspan><tspan x="53" y="971.7">EpsL_Vharv</tspan><tspan x="53" y="983.6">EpsL_Vvuln</tspan><tspan x="53" y="995.5">EpsL_Vsple</tspan><tspan x="53" y="1007.4">EpsL_Vchol</tspan><tspan x="53" y="1019.3">EpsF_Vshil</tspan><tspan x="53" y="1031.2">EpsL_Vfish</tspan></text>
<text class="acc" x="126" y="1043.1">acc</text>
<g class="s" transform="translate(139.36,0)">
<text y="947.9"><tspan class="k">I</tspan>H<tspan class="k">A</tspan>R<tspan class="k">S</tspan>S<tspan class="w">DF</tspan><tspan class="k">Q</tspan>P<tspan class="w">FE</tspan>Q<tspan class="k">AR</tspan>V<tspan class="k">K</tspan><tspan class="w">L</tspan>AEK<tspan class="w">F</tspan>N<tspan class="w">V</tspan><tspan class="k">E</tspan><tspan class="w">QG</tspan><tspan class="k">Q</tspan><tspan class="w">LN</tspan><tspan class="k">RSD</tspan>NV<tspan class="w">V</tspan>M<tspan class="w">G</tspan>S<tspan class="k">FVLK</tspan>R.Q</text>
<text y="959.8"><tspan class="k">I</tspan>Q<tspan class="k">A</tspan>R<tspan class="k">S</tspan>S<tspan class="w">DF</tspan><tspan class="k">Q</tspan>P<tspan class="w">FE</tspan>Q<tspan class="k">AR</tspan>V<tspan class="k">K</tspan><tspan class="w">L</tspan>AEK<tspan class="w">F</tspan>N<tspan class="w">V</tspan><tspan class="k">E</tspan><tspan class="w">QG</tspan><tspan class="k">Q</tspan><tspan class="w">LN</tspan><tspan class="k">RSD</tspan>NV<tspan class="w">V</tspan>V<tspan class="w">G</tspan>S<tspan class="k">FVLK</tspan>R.L</text>
<text y="971.7"><tspan class="k">I</tspan>Q<tspan class="k">A</tspan>S<tspan class="k">S</tspan>S<tspan class="w">DF</tspan><tspan class="k">Q</tspan>P<tspan class="w">FE</tspan>Q<tspan class="k">AR</tspan>V<tspan class="k">K</tspan><tspan class="w">L</tspan>AEK<tspan class="w">F</tspan>N<tspan class="w">V</tspan><tspan class="k">E</tspan><tspan class="w">QG</tspan><tspan class="k">Q</tspan><tspan class="w">LN</tspan><tspan class="k">RNG</tspan>NV<tspan class="w">V</tspan>M<tspan class="w">G</tspan>S<tspan class="k">FVLK</tspan>R.Q</text>
<text y="983.6"><tspan class="k">I</tspan>Q<tspan class="k">A</tspan>K<tspan class="k">S</tspan>N<tspan class="w">DF</tspan><tspan class="k">Q</tspan>I<tspan class="w">FE</tspan>Q<tspan class="k">AR</tspan>V<tspan class="k">K</tspan><tspan class="w">L</tspan>SEQ<tspan class="w">F</tspan>Q<tspan class="w">V</tspan><tspan class="k">E</tspan><tspan class="w">QG</tspan><tspan class="k">Q</tspan><tspan class="w">LN</tspan><tspan class="k">RTG</tspan>DA<tspan class="w">V</tspan>I<tspan class="w">G</tspan>S<tspan class="k">FVLK</tspan>R.K</text>
<text y="995.5"><tspan class="k">L</tspan>Q<tspan class="k">A</tspan>K<tspan class="k">S</tspan>S<tspan class="w">DF</tspan><tspan class="k">Q</tspan>H<tspan class="w">FE</tspan>T<tspan class="k">AR</tspan>V<tspan class="k">K</tspan><tspan class="w">L</tspan>EEK<tspan class="w">F</tspan>V<tspan class="w">V</tspan><tspan class="k">E</tspan><tspan class="w">QG</tspan><tspan class="k">P</tspan><tspan class="w">LN</tspan><tspan class="k">RNG</tspan>DA<tspan class="w">V</tspan>F<tspan class="w">G</tspan>S<tspan class="k">FTLK</tspan>PHQ</text>
<text y="1007.4"><tspan class="k">L</tspan>E<tspan class="k">A</tspan>T<tspan class="k">S</tspan>R<tspan class="w">DF</tspan><tspan class="k">Q</tspan>S<tspan class="w">FE</tspan>Q<tspan class="k">AR</tspan>T<tspan class="k">Q</tspan><tspan class="w">L</tspan>EQY<tspan class="w">F</tspan>A<tspan class="w">V</tspan><tspan class="k">E</tspan><tspan class="w">QG</tspan><tspan class="k">Q</tspan><tspan class="w">LN</tspan><tspan class="k">KNG</tspan>EQ<tspan class="w">V</tspan>F<tspan class="w">G</tspan>V<tspan class="k">FVVK</tspan>P.K</text>
<text y="1019.3"><tspan class="k">M</tspan>S<tspan class="k">V</tspan>T<tspan class="k">S</tspan>K<tspan class="w">DF</tspan><tspan class="k">E</tspan>S<tspan class="w">FE</tspan>A<tspan class="k">AR</tspan>I<tspan class="k">K</tspan><tspan class="w">L</tspan>ETQ<tspan class="w">F</tspan>D<tspan class="w">V</tspan><tspan class="k">S</tspan><tspan class="w">QG</tspan><tspan class="k">P</tspan><tspan class="w">LN</tspan><tspan class="k">RNG</tspan>EV<tspan class="w">V</tspan>M<tspan class="w">G</tspan>N<tspan class="k">FVLK</tspan>A.K</text>
<text y="1031.2"><tspan class="k">L</tspan>Q<tspan class="k">A</tspan>S<tspan class="k">A</tspan>S<tspan class="w">DF</tspan><tspan class="k">P</tspan>Y<tspan class="w">FE</tspan>K<tspan class="k">LT</tspan>S<tspan class="k">E</tspan><tspan class="w">L</tspan>GTK<tspan class="w">F</tspan>E<tspan class="w">V</tspan><tspan class="k">E</tspan><tspan class="w">QG</tspan><tspan class="k">Q</tspan><tspan class="w">LN</tspan><tspan class="k">KND</tspan>GQ<tspan class="w">V</tspan>F<tspan class="w">G</tspan>A<tspan class="k">IIIR</tspan>R.Q</text>
</g>
<g transform="translate(139,1036.3) scale(8.16,1)">
<rect class="aw" x="0" width="44" height="6"/><rect class="aw" x="45" width="1" height="6"/>
<rect class="ab" x="1" width="1" height="6"/><rect class="ab" x="5" width="4" height="6"/><rect class="ab" x="11" width="2" height="6"/><rect class="ab" x="15" width="1" height="6"/><rect class="ab" x="17" width="4" height="6"/><rect class="ab" x="22" width="1" height="6"/><rect class="ab" x="24" width="1" height="6"/><rect class="ab" x="27" width="1" height="6"/><rect class="ab" x="29" width="3" height="6"/><rect class="ab" x="33" width="1" height="6"/><rect class="ab" x="35" width="2" height="6"/><rect class="ab" x="43" width="1" height="6"/><rect class="ab" x="45" width="1" height="6"/>
<rect class="ac" x="3" width="1" height="6"/><rect class="ac" x="14" width="1" height="6"/><rect class="ac" x="16" width="1" height="6"/><rect class="ac" x="23" width="1" height="6"/><rect class="ac" x="25" width="2" height="6"/><rect class="ac" x="28" width="1" height="6"/><rect class="ac" x="34" width="1" height="6"/><rect class="ac" x="37" width="3" height="6"/><rect class="ac" x="41" width="2" height="6"/>
</g>
</g>
</g>
</svg>
